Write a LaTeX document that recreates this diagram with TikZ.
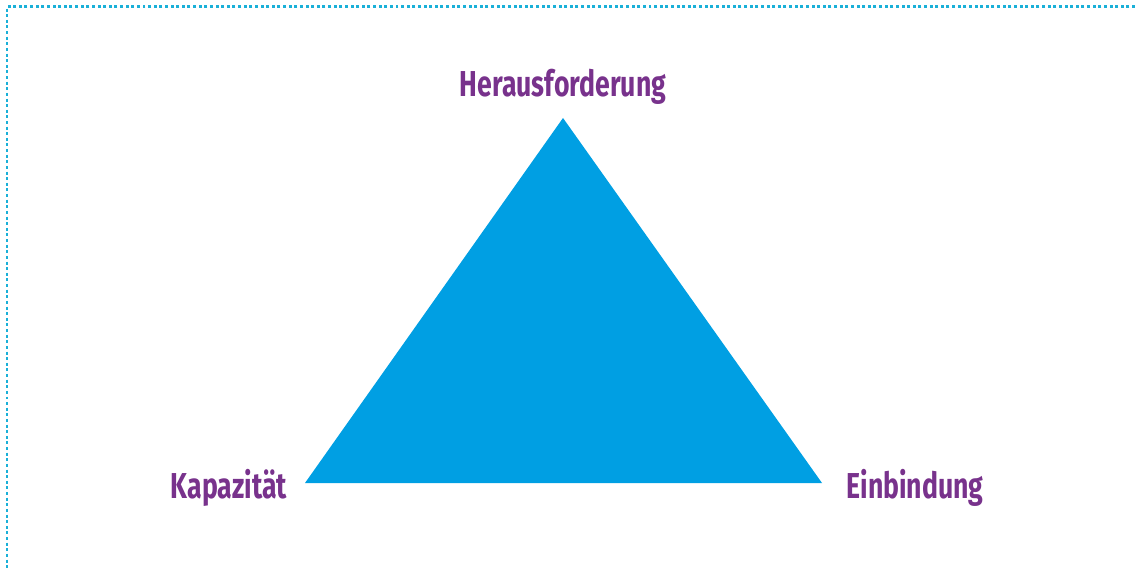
\documentclass[tikz,border=0pt]{standalone}
\usepackage{fontspec}
\setmainfont{Fira Sans}
\usetikzlibrary{positioning}
\definecolor{dreieck}{RGB}{0,159,227}
\definecolor{lila}{RGB}{120,50,140}
\definecolor{rand}{RGB}{26,176,216}
\newfontfamily\eckfont[FakeStretch=0.74]{Fira Sans Bold}

\begin{document}
\begin{tikzpicture}[x=0.02cm,y=-0.02cm,
  ecke/.style={text=lila,font=\eckfont\fontsize{20.5}{24}\selectfont,inner sep=0pt}]
  \useasboundingbox (0,0) rectangle (1135,570);
  % Rahmen
  \draw[rand,line width=1.7pt,dash pattern=on 1.7pt off 1.5pt] (1135,6.5) -- (7,6.5) -- (7,570);
  % Dreieck
  \coordinate (oben) at (563,118);
  \coordinate (links) at (305,483);
  \coordinate (rechts) at (822,483);
  \fill[dreieck] (oben) -- (links) -- (rechts) -- cycle;
  \foreach \x/\y/\n/\t in {563/87/h/Herausforderung, 229/488/k/Kapazität, 915/488/e/Einbindung}
    \node[ecke] (\n) at (\x,\y) {\t};
\end{tikzpicture}
\end{document}
